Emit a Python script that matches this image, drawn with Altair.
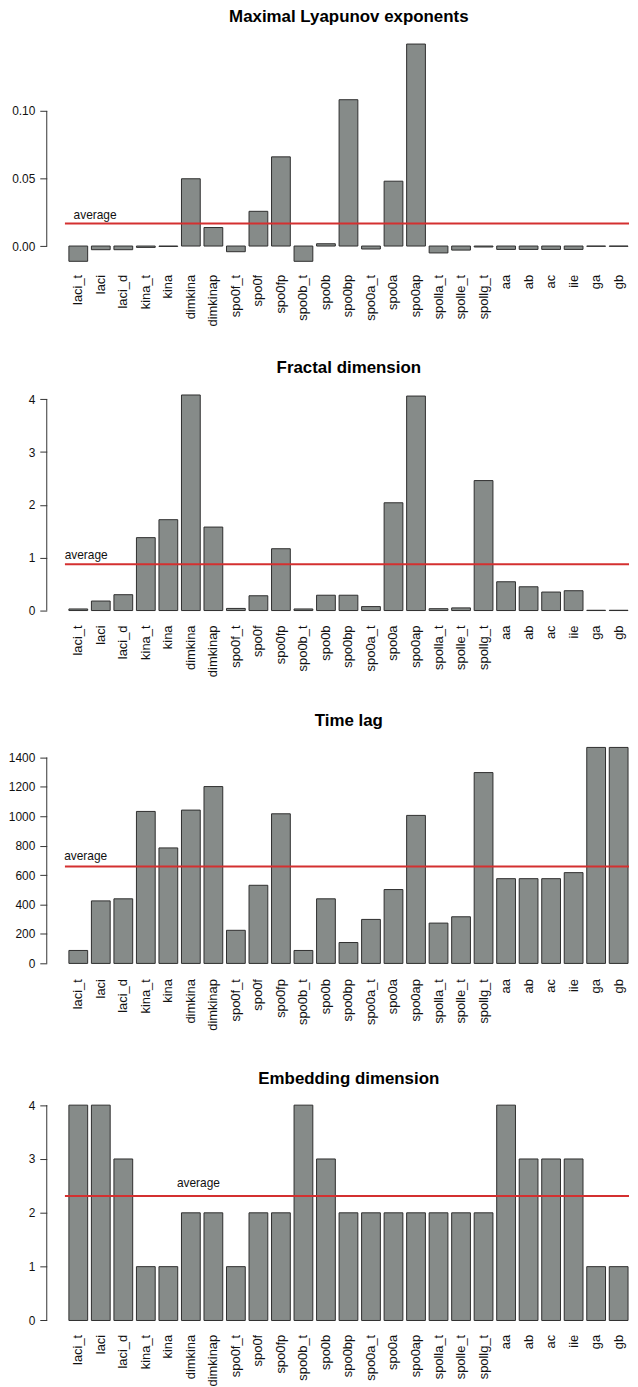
import altair as alt
import pandas as pd

# ---- data ----
labels = ["laci_t", "laci", "laci_d", "kina_t", "kina", "dimkina", "dimkinap",
          "spo0f_t", "spo0f", "spo0fp", "spo0b_t", "spo0b", "spo0bp", "spo0a_t",
          "spo0a", "spo0ap", "spolla_t", "spolle_t", "spollg_t", "aa", "ab", "ac",
          "iie", "ga", "gb"]

lyapunov = [-0.0113, -0.0027, -0.0027, -0.0010, -0.0003, 0.0498, 0.0137,
            -0.0042, 0.0257, 0.0660, -0.0113, 0.0017, 0.1083, -0.0022,
            0.0480, 0.1495, -0.0051, -0.0030, -0.0007, -0.0025, -0.0025,
            -0.0025, -0.0025, -0.0002, -0.0002]
lyapunov_avg = 0.0167

fractal = [0.03, 0.18, 0.30, 1.38, 1.72, 4.08, 1.58, 0.04, 0.28, 1.17, 0.03,
           0.29, 0.29, 0.075, 2.04, 4.06, 0.035, 0.05, 2.46, 0.545, 0.45, 0.35,
           0.375, 0.005, 0.005]
fractal_avg = 0.878

time_lag = [88, 425, 439, 1033, 785, 1042, 1202, 225, 531, 1017, 88, 439, 142,
            299, 502, 1006, 274, 317, 1297, 576, 576, 576, 617, 1468, 1468]
time_lag_avg = 659

embedding = [4, 4, 3, 1, 1, 2, 2, 1, 2, 2, 4, 3, 2, 2, 2, 2, 2, 2, 2, 4, 3, 3,
             3, 1, 1]
embedding_avg = 2.313

titles = ["Maximal Lyapunov exponents", "Fractal dimension", "Time lag",
          "Embedding dimension"]
ticks_lyap = [0.00, 0.05, 0.10]
ticks_frac = [0, 1, 2, 3, 4]
ticks_lag = [0, 200, 400, 600, 800, 1000, 1200, 1400]
ticks_emb = [0, 1, 2, 3, 4]

# ---- styling ----
FONT = "Liberation Sans"
BAR_FILL = "#868b89"
BAR_STROKE = "#2e2e2e"
RED = "#d43030"
W = 586


def panel(title, values, avg, ticks, fmt, domain, height, lab_pad, tx, tdy):
    df = pd.DataFrame({"name": labels, "value": values})
    one = pd.DataFrame({"avg": [avg], "lo": [ticks[0]], "hi": [ticks[-1]]})
    yscale = alt.Scale(domain=domain, nice=False, zero=False)
    yaxis = alt.Axis(title=None, values=ticks, format=fmt, domain=False,
                     grid=False, tickSize=7, tickColor="#333333",
                     labelPadding=5, labelFontSize=12, labelFont=FONT,
                     labelColor="#111111")
    xaxis = alt.Axis(title=None, labelAngle=-90, domain=False, ticks=False,
                     labelPadding=lab_pad, labelFontSize=13, labelFont=FONT,
                     labelColor="#111111", labelOverlap=False)
    xscale = alt.Scale(paddingInner=0.1667, paddingOuter=0.5135, align=0.958)

    bars = alt.Chart(df).mark_bar(fill=BAR_FILL, stroke=BAR_STROKE,
                                  strokeWidth=1).encode(
        x=alt.X("name:N", sort=labels, scale=xscale, axis=xaxis),
        y=alt.Y("value:Q", scale=yscale, axis=yaxis),
    )
    avg_line = alt.Chart(one).mark_rule(color=RED, strokeWidth=2).encode(
        x=alt.value(18.3), x2=alt.value(W),
        y=alt.Y("avg:Q", scale=yscale, axis=yaxis),
    )
    avg_text = alt.Chart(one).mark_text(align="left", baseline="alphabetic",
                                        dy=tdy, fontSize=12, font=FONT,
                                        color="#111111").encode(
        x=alt.value(tx),
        y=alt.Y("avg:Q", scale=yscale, axis=yaxis),
        text=alt.value("average"),
    )
    y_line = alt.Chart(one).mark_rule(color="#333333", strokeWidth=1).encode(
        x=alt.value(0),
        y=alt.Y("lo:Q", scale=yscale, axis=yaxis),
        y2=alt.Y2("hi:Q"),
    )
    return alt.layer(bars, avg_line, avg_text, y_line).properties(
        width=W, height=height,
        title=alt.TitleParams(title, fontSize=17, fontWeight="bold", font=FONT,
                              color="#000000", anchor="middle", dx=11,
                              offset=9),
    )


p1 = panel(titles[0], lyapunov, lyapunov_avg, ticks_lyap, ".2f",
           [-0.018, 0.156], 236.6, 4, 27, -5)
p2 = panel(titles[1], fractal, fractal_avg, ticks_frac, "d",
           [-0.2356, 4.25], 238.5, 2, 18, -5)
p3 = panel(titles[2], time_lag, time_lag_avg, ticks_lag, "d",
           [-116.8, 1527], 243.4, -2, 17.5, -6.5)
p4 = panel(titles[3], embedding, embedding_avg, ticks_emb, "d",
           [-0.2016, 4.1616], 236.4, 3, 131, -9)

chart = alt.vconcat(p1, p2, p3, p4, spacing=116, bounds="flush").properties(
    padding={"left": 0, "top": -4, "right": 0, "bottom": 0},
    background="white",
).configure_view(stroke=None)

chart.save("out.html", embed_options={"renderer": "svg", "actions": False})
